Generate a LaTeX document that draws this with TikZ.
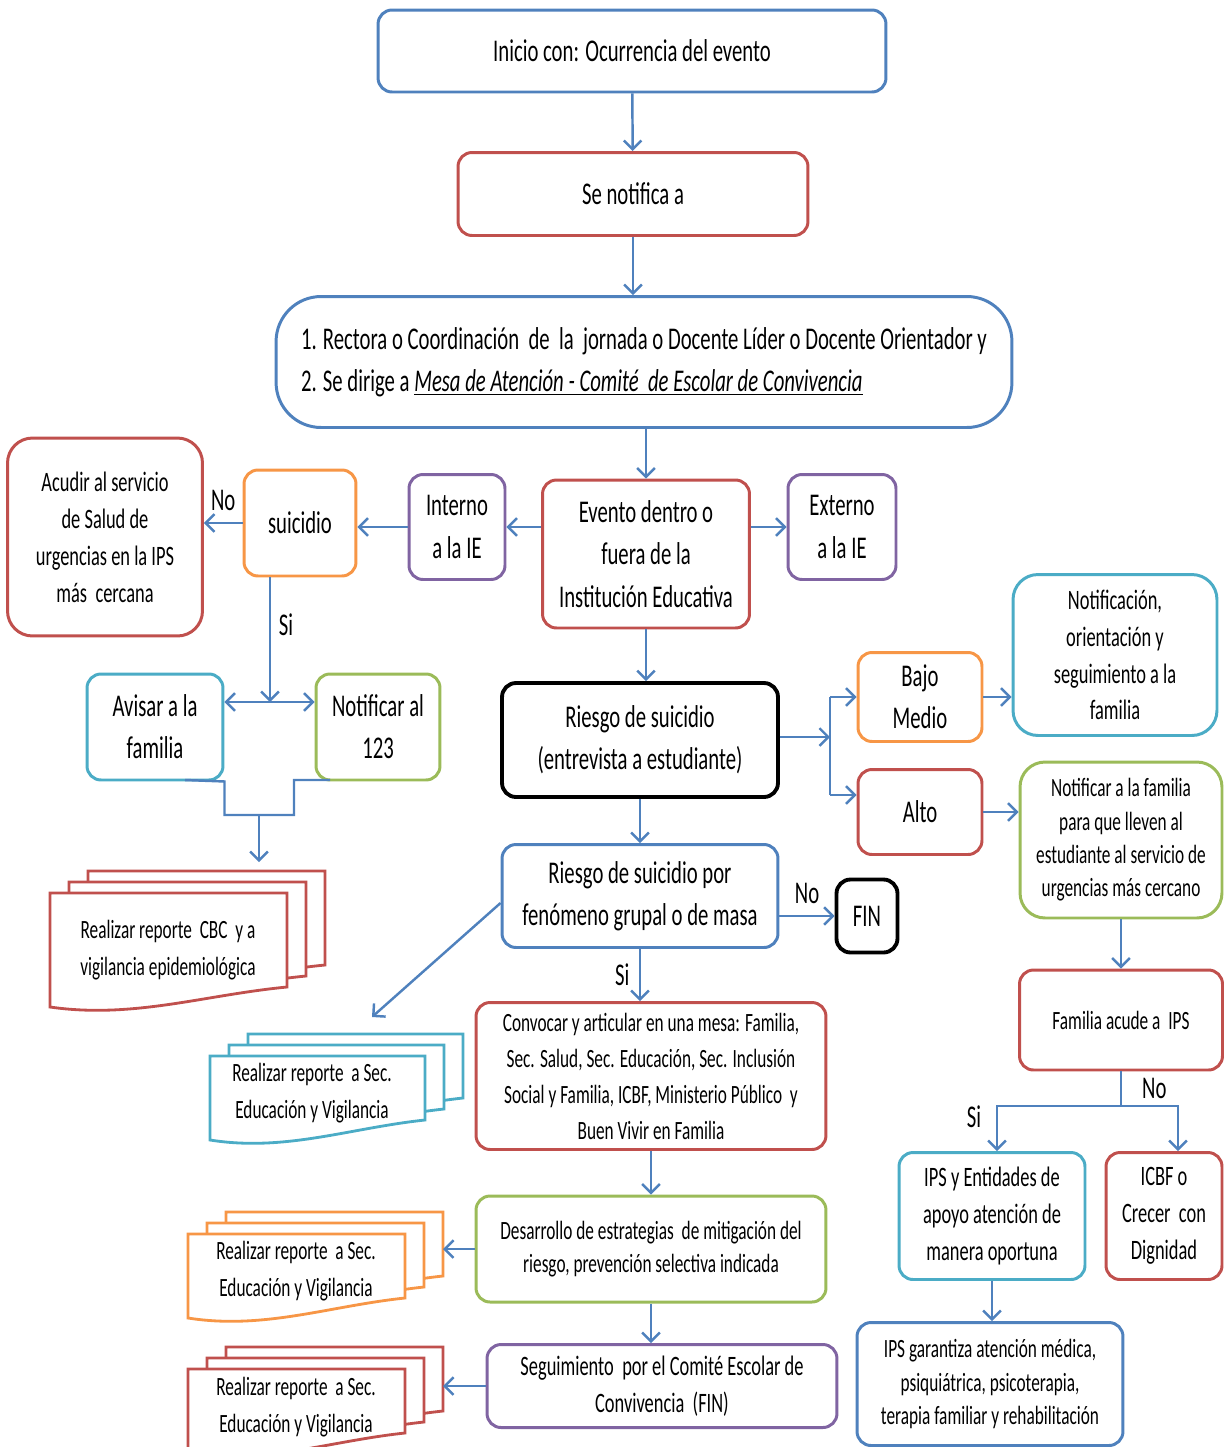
\documentclass[tikz,border=0pt]{standalone}
\usepackage{fontspec}
\setmainfont{Carlito}[FakeStretch=0.655]
\usetikzlibrary{arrows.meta}

\definecolor{azul}{HTML}{4F81BD}
\definecolor{rojo}{HTML}{C0504D}
\definecolor{morado}{HTML}{8064A2}
\definecolor{naranja}{HTML}{F79646}
\definecolor{turquesa}{HTML}{4BACC6}
\definecolor{verde}{HTML}{9BBB59}

% one sheet of the stacked documents
\newcommand{\hoja}[5]{%
  \filldraw[draw=#5,fill=white,line width=1.6pt] (#1,#2) -- (#3,#2) -- (#3,#4)
    .. controls ({0.65*(#3)+0.35*(#1)},{#4+8}) and ({0.35*(#3)+0.65*(#1)},{#4+32}) .. (#1,{#4+20}) -- cycle;}
\newcommand{\pilahojas}[5]{%
  \hoja{#1+38}{#2-22}{#3+38}{#4-22}{#5}
  \hoja{#1+19}{#2-11}{#3+19}{#4-11}{#5}
  \hoja{#1}{#2}{#3}{#4}{#5}}

\begin{document}
\begin{tikzpicture}[x=0.02cm,y=-0.02cm,
  caja/.style={draw,rounded corners=0.28cm,line width=1.7pt,align=center,inner sep=2pt,fill=white},
  fa/.style={font=\fontsize{18}{24}\selectfont},
  fb/.style={font=\fontsize{16}{21}\selectfont},
  fc/.style={font=\fontsize{15}{19}\selectfont},
  doctext/.style={align=center,font=\fontsize{15}{21}\selectfont},
  conn/.style={azul,line width=1.4pt,-{Straight Barb[length=5pt,width=10pt]}},
  linea/.style={azul,line width=1.4pt},
  etiq/.style={text=black,font=\fontsize{18}{22}\selectfont}]
\useasboundingbox (0,0) rectangle (1225,1447);

% main column
\node[caja,fa,draw=azul,minimum width=10.16cm,minimum height=1.64cm] (inicio) at (632,51) {Inicio con: Ocurrencia del evento};
\node[caja,fa,draw=rojo,minimum width=7cm,minimum height=1.66cm] (notifica) at (633,194) {Se notifica a};
\node[caja,fa,draw=azul,rounded corners=0.9cm,align=left,minimum width=14.72cm,minimum height=2.62cm] (rectora) at (644,362)
  {1. Rectora o Coordinación~ de~ la~ jornada o Docente Líder o Docente Orientador y\\
   2. Se dirige a \underline{\textit{Mesa de Atención - Comité~ de Escolar de Convivencia}}};
\node[caja,fa,draw=rojo,minimum width=4.14cm,minimum height=2.96cm] (evento) at (646,554) {Evento dentro o\\fuera de la\\Institución Educativa};
\node[caja,fa,draw=morado,minimum width=1.92cm,minimum height=2.1cm] (interno) at (457,527) {Interno\\a la IE};
\node[caja,fa,draw=morado,minimum width=2.16cm,minimum height=2.1cm] (externo) at (842,527) {Externo\\a la IE};
\node[caja,fa,draw=naranja,minimum width=2.24cm,minimum height=2.12cm] (suicidio) at (300,523) {suicidio};
\node[caja,fb,draw=rojo,rounded corners=0.5cm,minimum width=3.9cm,minimum height=3.96cm] (acudir) at (105,537)
  {Acudir al servicio\\de Salud de\\urgencias en la IPS\\más~ cercana};
\node[caja,fa,draw=turquesa,minimum width=2.72cm,minimum height=2.12cm] (avisar) at (155,727) {Avisar a la\\familia};
\node[caja,fa,draw=verde,minimum width=2.48cm,minimum height=2.12cm] (llamar) at (378,727) {Notificar al\\123};

% risk branch
\node[caja,fa,draw=black,line width=2.2pt,minimum width=5.52cm,minimum height=2.28cm] (riesgo) at (640,740) {Riesgo de suicidio\\(entrevista a estudiante)};
\node[caja,fa,draw=naranja,minimum width=2.48cm,minimum height=1.78cm] (bajo) at (920,697) {Bajo\\Medio};
\node[caja,fa,draw=rojo,minimum width=2.48cm,minimum height=1.7cm] (alto) at (920,812) {Alto};
\node[caja,fb,draw=turquesa,rounded corners=0.5cm,minimum width=4.08cm,minimum height=3.22cm] (orienta) at (1115,655)
  {Notificación,\\orientación y\\seguimiento a la\\familia};
\node[caja,fc,draw=verde,rounded corners=0.5cm,minimum width=4.04cm,minimum height=3.12cm] (llevar) at (1121,840)
  {Notificar a la familia\\para que lleven al\\estudiante al servicio de\\urgencias más cercano};
\node[caja,fc,draw=rojo,minimum width=4.06cm,minimum height=2cm] (acude) at (1121,1020) {Familia acude a~ IPS};
\node[caja,fb,draw=turquesa,minimum width=3.72cm,minimum height=2.54cm] (entidades) at (992,1216) {IPS y Entidades de\\apoyo atención de\\manera oportuna};
\node[caja,fb,draw=rojo,minimum width=2.32cm,minimum height=2.54cm] (icbf) at (1164,1216) {ICBF o\\Crecer~ con\\Dignidad};
\node[caja,fc,draw=azul,minimum width=5.32cm,minimum height=2.46cm] (garantiza) at (990,1384)
  {IPS garantiza atención médica,\\psiquiátrica, psicoterapia,\\terapia familiar y rehabilitación};

% group branch
\node[caja,fa,draw=azul,minimum width=5.52cm,minimum height=2.06cm] (grupal) at (640,896) {Riesgo de suicidio por\\fenómeno grupal o de masa};
\node[caja,fa,draw=black,line width=2.2pt,minimum width=1.22cm,minimum height=1.46cm] (fin) at (867,916) {FIN};
\node[caja,fc,draw=rojo,minimum width=7cm,minimum height=2.94cm,font=\fontsize{15}{20.5}\selectfont] (convocar) at (651,1076)
  {Convocar y articular en una mesa: Familia,\\Sec. Salud, Sec. Educación, Sec. Inclusión\\Social y Familia, ICBF, Ministerio Público~ y\\Buen Vivir en Familia};
\node[caja,fc,draw=verde,minimum width=7cm,minimum height=2.12cm] (mitiga) at (651,1249)
  {Desarrollo de estrategias~ de mitigación del\\riesgo, prevención selectiva indicada};
\node[caja,fb,draw=morado,minimum width=7cm,minimum height=1.66cm] (seguir) at (662,1386)
  {Seguimiento~ por el Comité Escolar de\\Convivencia~ (FIN)};

% stacked reports
\pilahojas{50}{893}{287}{987}{rojo}
\node[doctext] (rep1) at (168,950) {Realizar reporte~ CBC~ y a\\vigilancia epidemiológica};
\pilahojas{210}{1056}{425}{1120}{turquesa}
\node[doctext] (rep2) at (312,1093) {Realizar reporte~ a Sec.\\Educación y Vigilancia};
\pilahojas{188}{1234}{405}{1298}{naranja}
\node[doctext] (rep3) at (296,1271) {Realizar reporte~ a Sec.\\Educación y Vigilancia};
\pilahojas{188}{1369}{405}{1433}{rojo}
\node[doctext] (rep4) at (296,1407) {Realizar reporte~ a Sec.\\Educación y Vigilancia};

\coordinate (rep1in) at (259,862);
\coordinate (rep2in) at (372,1017);
\coordinate (rep3in) at (443,1249);
\coordinate (rep4in) at (443,1386);
\coordinate (cruce1) at (270,702);
\coordinate (union1) at (259,815);
\coordinate (cruce2) at (830,737);
\coordinate (ramaB) at (830,697);
\coordinate (ramaA) at (830,795);
\coordinate (cruce3) at (1121,1106);

% connectors
\draw[conn] (inicio) -- (notifica);
\draw[conn] (notifica.south) -- (notifica.south |- rectora.north);
\draw[conn] (rectora.south -| evento.north) -- (evento.north);
\draw[conn] (evento.west |- interno) -- (interno.east);
\draw[conn] (evento.east |- externo) -- (externo.west);
\draw[conn] (interno.west) -- (interno.west -| suicidio.east);
\draw[conn] (suicidio.west) -- (suicidio.west -| acudir.east) node[etiq,midway,above=3pt] {No};
\draw[conn] (suicidio.south -| cruce1) -- (cruce1) node[etiq,pos=0.38,right=1pt] {Si};
\draw[linea,{Straight Barb[length=5pt,width=10pt]}-{Straight Barb[length=5pt,width=10pt]}] (avisar.east |- cruce1) -- (llamar.west |- cruce1);
\draw[linea] (185,780) -- (avisar.south east) |- (union1) -| (294,780) -- (330,780);
\draw[conn] (union1) -- (rep1in);

\draw[conn] (evento.south) -- (evento.south |- riesgo.north);
\draw[conn] (riesgo.east |- cruce2) -- (cruce2);
\draw[linea] (ramaB) -- (ramaA);
\draw[conn] (ramaB) -- (ramaB -| bajo.west);
\draw[conn] (ramaA) -- (ramaA -| alto.west);
\draw[conn] (bajo.east) -- (bajo.east -| orienta.west);
\draw[conn] (alto.east) -- (alto.east -| llevar.west);
\draw[conn] (llevar.south) -- (acude.north);
\draw[linea] (acude.south) -- (cruce3) node[etiq,midway,right=8pt] {No};
\draw[conn] (cruce3) -| ([xshift=0.1cm]entidades.north) node[etiq,pos=0.62,left=5pt] {Si};
\draw[conn] (cruce3) -| ([xshift=0.28cm]icbf.north);
\draw[conn] (entidades.south) -- (entidades.south |- garantiza.north);

\draw[conn] (riesgo.south) -- (grupal.north);
\draw[conn] (grupal.east |- fin) -- (fin.west) node[etiq,midway,above=3pt] {No};
\draw[conn] (grupal.south) -- (grupal.south |- convocar.north) node[etiq,midway,left=2pt] {Si};
\draw[conn] ([yshift=-0.14cm]grupal.west) -- (rep2in);
\draw[conn] (convocar.south) -- (convocar.south |- mitiga.north);
\draw[conn] (mitiga.west) -- (rep3in);
\draw[conn] (mitiga.south) -- (mitiga.south |- seguir.north);
\draw[conn] (seguir.west) -- (rep4in);
\end{tikzpicture}
\end{document}
